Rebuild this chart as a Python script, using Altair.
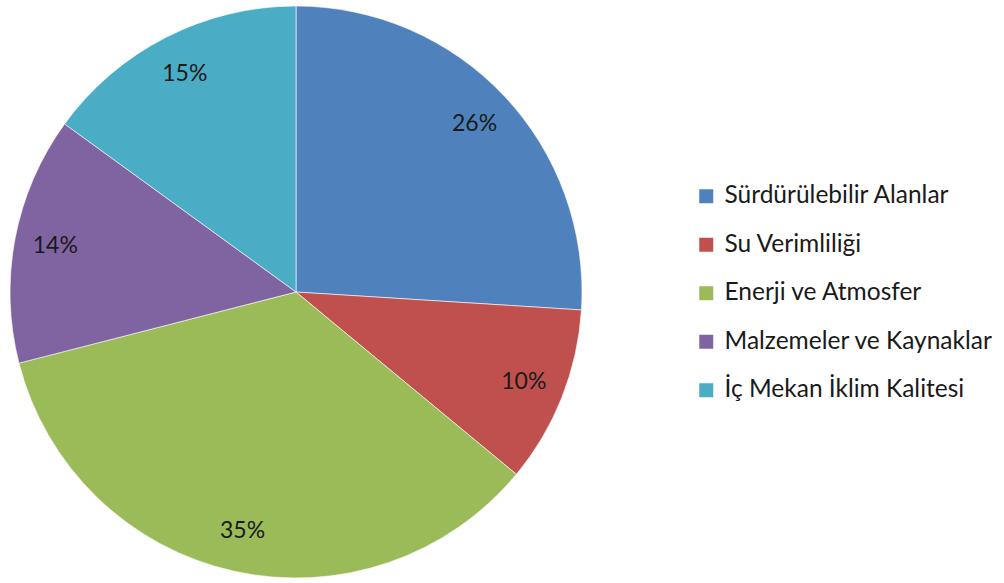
import altair as alt
import pandas as pd

categories = ["Sürdürülebilir Alanlar", "Su Verimliliği", "Enerji ve Atmosfer",
              "Malzemeler ve Kaynaklar", "İç Mekan İklim Kalitesi"]
values = [26, 10, 35, 14, 15]
labels = ["26%", "10%", "35%", "14%", "15%"]
colors = ["#4F81BD", "#C0504D", "#9BBB59", "#8064A2", "#4BACC6"]

df = pd.DataFrame({"cat": categories, "val": values, "lab": labels,
                   "idx": list(range(len(categories)))})

FONT = "Lato"

base = alt.Chart(df).encode(
    theta=alt.Theta("val:Q", stack=True),
    order=alt.Order("idx:Q", sort="ascending"),
)

pie = base.mark_arc(outerRadius=286, stroke="white", strokeWidth=1, strokeOpacity=0.6).encode(
    color=alt.Color(
        "cat:N",
        scale=alt.Scale(domain=categories, range=colors),
        sort=categories,
        legend=alt.Legend(
            title=None,
            orient="none",
            legendX=694,
            legendY=184,
            symbolType="square",
            symbolSize=196,
            symbolStrokeWidth=0,
            labelFont=FONT,
            labelFontSize=24.5,
            labelColor="#1a1a1a",
            labelLimit=400,
            labelOffset=6,
            rowPadding=23.5,
        ),
    )
)

text = base.mark_text(radius=245, font=FONT, fontSize=23, color="#1a1a1a").encode(
    text="lab:N"
)

chart = (
    alt.layer(pie, text)
    .properties(
        width=592,
        height=584,
        padding={"left": 0, "top": 0, "right": 412, "bottom": 0},
        autosize=alt.AutoSizeParams(type="none"),
    )
    .configure_view(stroke=None)
    .configure(background="white")
)

chart.save("out.html", embed_options={"renderer": "svg", "actions": False})
